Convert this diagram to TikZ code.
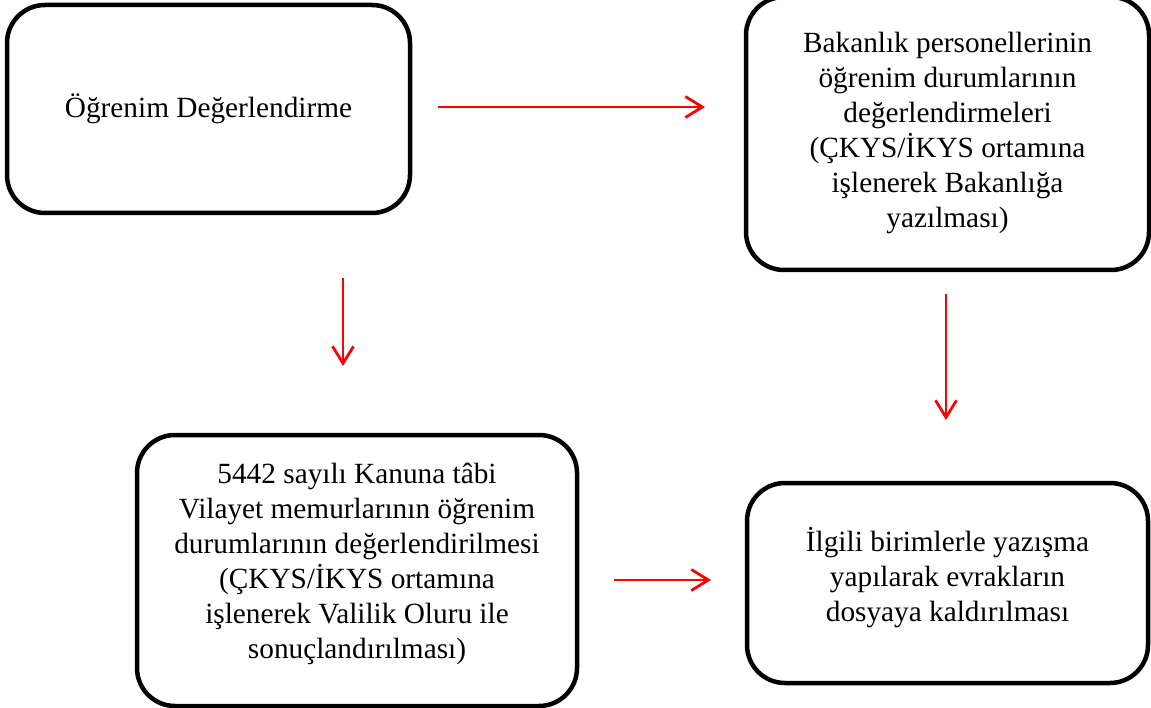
\documentclass[tikz,border=0pt]{standalone}
\usepackage{fontspec}
\setmainfont{Liberation Serif}
\usetikzlibrary{arrows.meta}
\begin{document}
\begin{tikzpicture}[x=1pt,y=-1pt,
  box/.style={draw=black, line width=4.5pt, rounded corners=38pt, fill=white,
    inner sep=0pt},
  boxtext/.style={align=center, inner sep=0pt,
    font=\fontsize{29.3}{35}\selectfont},
  flow/.style={draw=red, line width=2.8pt,
    -{Straight Barb[length=17pt,width=21pt,line width=2.8pt]}}]
\useasboundingbox (0,0) rectangle (1151,708);

% the four steps: frames, then their texts
\node[box, minimum width=403pt, minimum height=208pt] (degerlendirme) at (208.5,109) {};
\node[box, minimum width=403pt, minimum height=273pt] (bakanlik) at (947.5,133.5) {};
\node[box, minimum width=440pt, minimum height=271pt] (vilayet) at (357,570.5) {};
\node[box, minimum width=401pt, minimum height=200pt] (dosya) at (947.5,583) {};

\node[boxtext] (degerlendirme-t) at (degerlendirme.center)
  {Öğrenim Değerlendirme};
\node[boxtext] (bakanlik-t) at ([yshift=1pt]bakanlik.center)
  {Bakanlık personellerinin\\öğrenim durumlarının\\değerlendirmeleri\\(ÇKYS/İKYS ortamına\\işlenerek Bakanlığa\\yazılması)};
\node[boxtext] (vilayet-t) at ([yshift=7pt]vilayet.center)
  {5442 sayılı Kanuna tâbi\\Vilayet memurlarının öğrenim\\durumlarının değerlendirilmesi\\(ÇKYS/İKYS ortamına\\işlenerek Valilik Oluru ile\\sonuçlandırılması)};
\node[boxtext] (dosya-t) at ([yshift=5pt]dosya.center)
  {İlgili birimlerle yazışma\\yapılarak evrakların\\dosyaya kaldırılması};

% connectors between the steps
\coordinate (a1s) at (438,107);
\coordinate (a1e) at (705,107);
\draw[flow] (a1s) -- (a1e);

\coordinate (a2s) at (343,278);
\coordinate (a2e) at (343,366);
\draw[flow] (a2s) -- (a2e);

\coordinate (a3s) at (946,294);
\coordinate (a3e) at (946,420);
\draw[flow] (a3s) -- (a3e);

\coordinate (a4s) at (614,580);
\coordinate (a4e) at (711,580);
\draw[flow] (a4s) -- (a4e);
\end{tikzpicture}
\end{document}
